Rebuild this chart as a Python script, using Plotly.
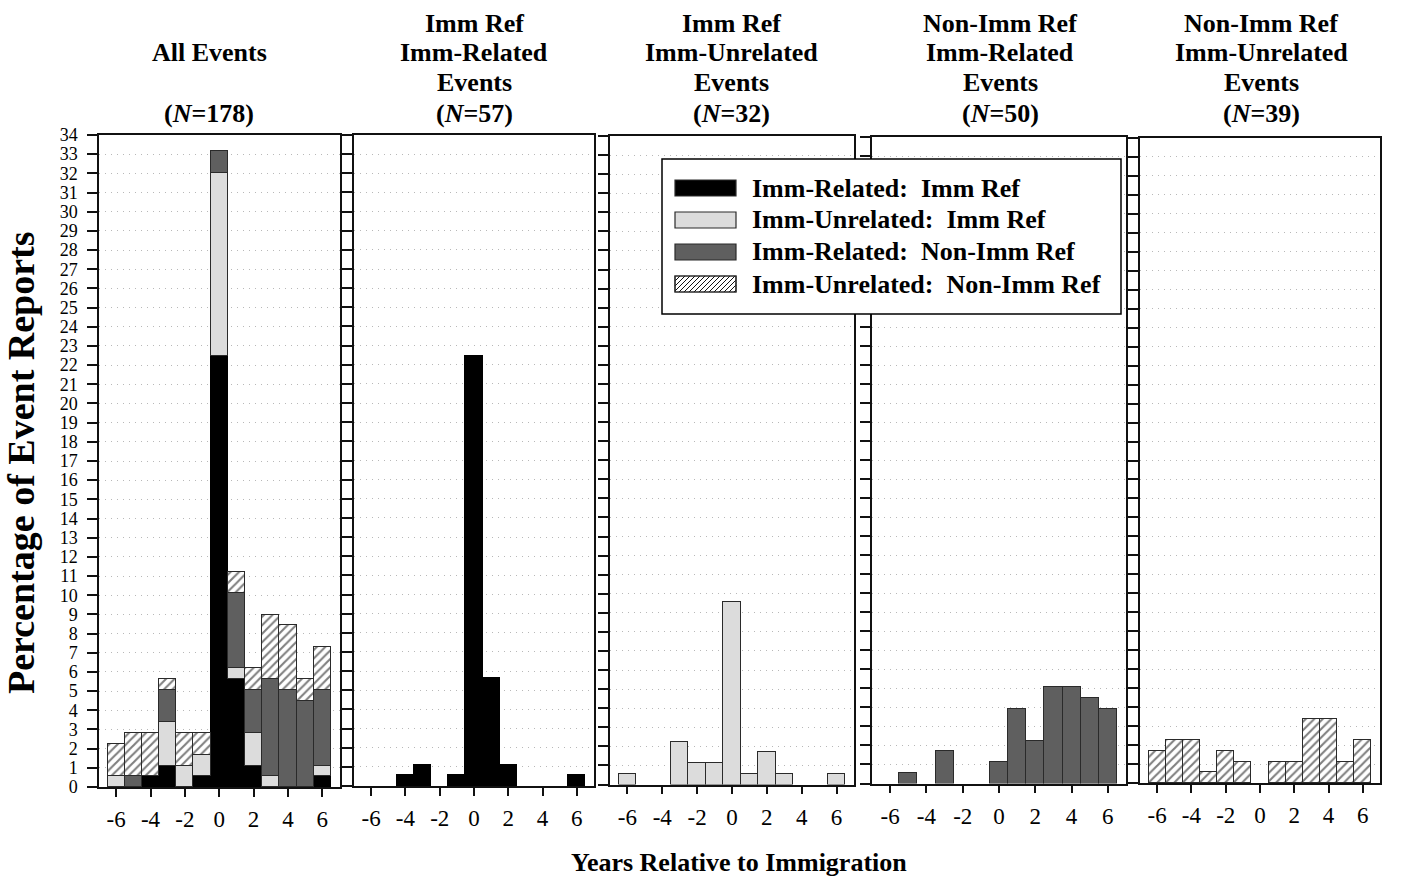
import plotly.graph_objects as go

W, H = 1401, 878
FONT = "Liberation Serif"

# ---------------- data (percent of all 178 event reports) ----------------
years = [-6, -5, -4, -3, -2, -1, 0, 1, 2, 3, 4, 5, 6]
imm_related_imm_ref = [0, 0, 0.56, 1.12, 0, 0.56, 22.47, 5.62, 1.12, 0, 0, 0, 0.56]
imm_unrelated_imm_ref = [0.56, 0, 0, 2.25, 1.12, 1.12, 9.55, 0.56, 1.69, 0.56, 0, 0, 0.56]
imm_related_nonimm_ref = [0, 0.56, 0, 1.69, 0, 0, 1.12, 3.93, 2.25, 5.06, 5.06, 4.49, 3.93]
imm_unrelated_nonimm_ref = [1.69, 2.25, 2.25, 0.56, 1.69, 1.12, 0, 1.12, 1.12, 3.37, 3.37, 1.12, 2.25]

series_names = [
    "Imm-Related:\u00a0 Imm Ref",
    "Imm-Unrelated:\u00a0 Imm Ref",
    "Imm-Related:\u00a0 Non-Imm Ref",
    "Imm-Unrelated:\u00a0 Non-Imm Ref",
]
series_values = [imm_related_imm_ref, imm_unrelated_imm_ref,
                 imm_related_nonimm_ref, imm_unrelated_nonimm_ref]

panel_titles = [
    ["", "All Events", "", "(<i>N</i>=178)"],
    ["Imm Ref", "Imm-Related", "Events", "(<i>N</i>=57)"],
    ["Imm Ref", "Imm-Unrelated", "Events", "(<i>N</i>=32)"],
    ["Non-Imm Ref", "Imm-Related", "Events", "(<i>N</i>=50)"],
    ["Non-Imm Ref", "Imm-Unrelated", "Events", "(<i>N</i>=39)"],
]
xtick_vals = [-6, -4, -2, 0, 2, 4, 6]
xtick_text = ["-6", "-4", "-2", "0", "2", "4", "6"]
ytick_vals = list(range(0, 35))
y_title = "Percentage of Event Reports"
x_title = "Years Relative to Immigration"

# ---------------- styles ----------------
OUT = "#2a2a2a"
markers = [
    dict(color="#000000", line=dict(color="#000000", width=1)),
    dict(color="#dcdcdc", line=dict(color=OUT, width=1.2)),
    dict(color="#5f5f5f", line=dict(color=OUT, width=1.2)),
    dict(color="white", line=dict(color=OUT, width=1.2),
         pattern=dict(shape="/", fgcolor="#000000", bgcolor="white", size=6, solidity=0.35)),
]

# panel pixel boxes (left, right) and (top, bottom)
panels_x = [(99, 339.5), (354, 594), (610, 854), (872, 1126), (1140, 1380)]
panels_y = [(135, 787), (135, 786), (136, 784.5), (137, 783.5), (138, 783)]
title_centers = [209, 474, 732, 1000, 1261]


def px(x):
    return x / W


def py(y):
    return 1 - y / H


fig = go.Figure()

# panel 1: all series stacked; panels 2-5: one series each
panel_series = [[0, 1, 2, 3], [0], [1], [2], [3]]
for p, idxs in enumerate(panel_series):
    sfx = "" if p == 0 else str(p + 1)
    for s in idxs:
        vals = [v if v > 0 else None for v in series_values[s]]
        fig.add_trace(go.Bar(
            x=years, y=vals, width=1, marker=markers[s], name=series_names[s],
            xaxis="x" + sfx, yaxis="y" + sfx, showlegend=False, hoverinfo="x+y",
        ))

layout = dict(
    width=W, height=H, margin=dict(l=0, r=0, t=0, b=0),
    paper_bgcolor="white", plot_bgcolor="white",
    barmode="stack", bargap=0, showlegend=False,
    font=dict(family=FONT, color="black"),
)
for p in range(5):
    sfx = "" if p == 0 else str(p + 1)
    x0, x1 = panels_x[p]
    t, b = panels_y[p]
    layout["xaxis" + sfx] = dict(
        domain=[px(x0), px(x1)], anchor="y" + sfx, range=[-7, 7],
        tickmode="array", tickvals=xtick_vals, ticktext=xtick_text,
        ticks="outside", ticklen=8, tickwidth=1.5, tickcolor="#111",
        showline=True, linecolor="#111", linewidth=1.5, mirror=True,
        showgrid=False, zeroline=False, automargin=False,
        tickfont=dict(family=FONT, size=23, color="black"), ticklabelstandoff=3,
        fixedrange=True,
    )
    layout["yaxis" + sfx] = dict(
        domain=[py(b), py(t)], anchor="x" + sfx, range=[0, 34],
        tickmode="array", tickvals=ytick_vals, ticktext=[str(v) for v in ytick_vals],
        ticks="outside", ticklen=10, tickwidth=1.5, tickcolor="#111",
        showticklabels=(p == 0),
        showline=True, linecolor="#111", linewidth=1.5, mirror=True,
        showgrid=True, gridcolor="#b8b8b8", gridwidth=1, griddash="1px,5px",
        zeroline=False, automargin=False,
        tickfont=dict(family=FONT, size=18, color="black"), ticklabelstandoff=6,
        fixedrange=True,
    )
fig.update_layout(**layout)

annotations = []
# panel titles
title_rows = [23, 53, 83, 113]
for p in range(5):
    cx = title_centers[p]
    for r, txt in enumerate(panel_titles[p]):
        if not txt:
            continue
        annotations.append(dict(
            x=px(cx), y=py(title_rows[r]), xref="paper", yref="paper",
            text="<b>" + txt + "</b>", showarrow=False,
            xanchor="center", yanchor="middle",
            font=dict(family=FONT, size=26, color="black"),
        ))

# axis titles
annotations.append(dict(
    x=px(739), y=py(862), xref="paper", yref="paper",
    text="<b>" + x_title + "</b>", showarrow=False, xanchor="center", yanchor="middle",
    font=dict(family=FONT, size=26, color="black"),
))
annotations.append(dict(
    x=px(21), y=py(463), xref="paper", yref="paper", textangle=-90,
    text="<b>" + y_title + "</b>", showarrow=False, xanchor="center", yanchor="middle",
    font=dict(family=FONT, size=38, color="black"),
))

# ---------------- custom legend ----------------
shapes = []
LB = dict(x0=662, x1=1121, y0=159, y1=314)
shapes.append(dict(type="rect", xref="paper", yref="paper", layer="above",
                   x0=px(LB["x0"]), x1=px(LB["x1"]), y0=py(LB["y1"]), y1=py(LB["y0"]),
                   line=dict(color="black", width=1.5), fillcolor="white"))
row_centers = [188, 220, 252, 284]
sw_x0, sw_x1, sw_h = 675, 736, 16
for i, cy in enumerate(row_centers):
    top, bot = cy - sw_h / 2, cy + sw_h / 2
    fill = markers[i]["color"]
    shapes.append(dict(type="rect", xref="paper", yref="paper", layer="above",
                       x0=px(sw_x0), x1=px(sw_x1), y0=py(bot), y1=py(top),
                       line=dict(color=OUT, width=1.2), fillcolor=fill))
    if i == 3:
        # diagonal hatching inside the swatch
        step = 5
        a = sw_x0 - sw_h
        while a < sw_x1:
            xs, ys = a, bot
            xe, ye = a + sw_h, top
            if xs < sw_x0:
                ys = bot - (sw_x0 - xs)
                xs = sw_x0
            if xe > sw_x1:
                ye = top + (xe - sw_x1)
                xe = sw_x1
            if xe > xs:
                shapes.append(dict(type="line", xref="paper", yref="paper", layer="above",
                                   x0=px(xs), y0=py(ys), x1=px(xe), y1=py(ye),
                                   line=dict(color="#111", width=1)))
            a += step
        shapes.append(dict(type="rect", xref="paper", yref="paper", layer="above",
                           x0=px(sw_x0), x1=px(sw_x1), y0=py(bot), y1=py(top),
                           line=dict(color=OUT, width=1.2), fillcolor="rgba(0,0,0,0)"))
    annotations.append(dict(
        x=px(750), y=py(cy), xref="paper", yref="paper",
        text="<b>" + series_names[i] + "</b>", showarrow=False,
        xanchor="left", yanchor="middle",
        font=dict(family=FONT, size=26, color="black"),
    ))

fig.update_layout(annotations=annotations, shapes=shapes)
fig.write_html("out.html", config={"displayModeBar": False})
